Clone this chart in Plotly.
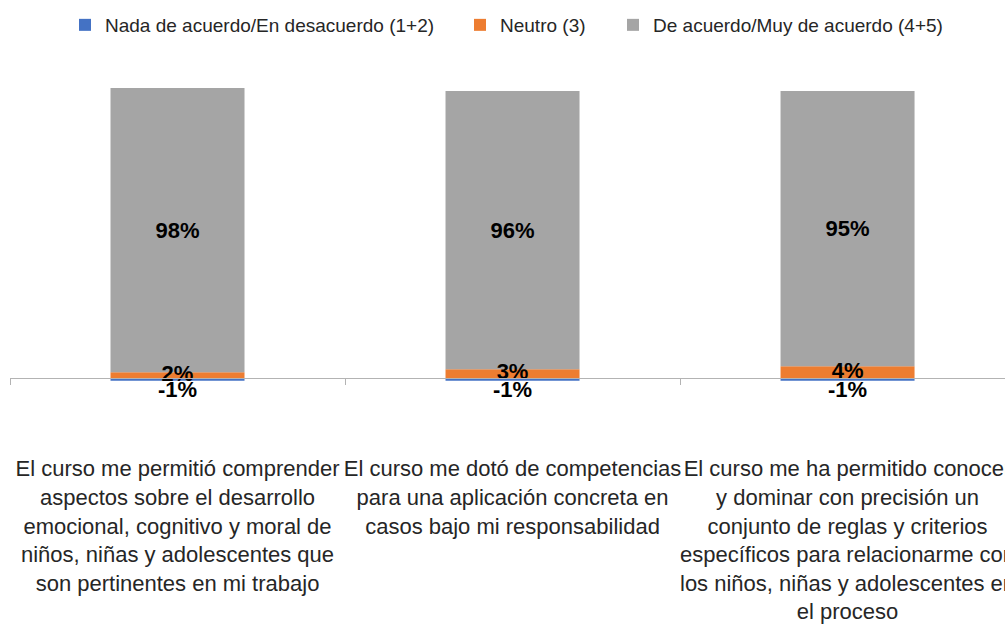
import plotly.graph_objects as go

# datos
categorias = [
    "El curso me permitió comprender<br>aspectos sobre el desarrollo<br>emocional, cognitivo y moral de<br>niños, niñas y adolescentes que<br>son pertinentes en mi trabajo",
    "El curso me dotó de competencias<br>para una aplicación concreta en<br>casos bajo mi responsabilidad",
    "El curso me ha permitido conocer<br>y dominar con precisión un<br>conjunto de reglas y criterios<br>específicos para relacionarme con<br>los niños, niñas y adolescentes en<br>el proceso",
]
desacuerdo = [-1, -1, -1]
neutro = [2, 3, 4]
acuerdo = [98, 96, 95]

series = [
    ("Nada de acuerdo/En desacuerdo (1+2)", desacuerdo, "#4472C4", "legend"),
    ("Neutro (3)", neutro, "#ED7D31", "legend2"),
    ("De acuerdo/Muy de acuerdo (4+5)", acuerdo, "#A5A5A5", "legend3"),
]

FONT = "Liberation Sans, Arial, sans-serif"
TXT = "#262626"

fig = go.Figure()
for nombre, valores, color, leg in series:
    fig.add_trace(go.Bar(
        x=categorias, y=valores, name=nombre, legend=leg,
        marker=dict(color=color, line=dict(width=0)),
        width=0.4,
    ))

# etiqueta de la serie gris dentro de la barra
fig.data[2].update(
    text=[f"{v}%" for v in acuerdo], textposition="inside",
    insidetextanchor="middle",
    textfont=dict(family=FONT, size=22, color="black", weight="bold"),
)

# etiquetas de neutro y desacuerdo
fig.add_trace(go.Scatter(
    x=categorias, y=[v / 2 for v in neutro], mode="text",
    text=[f"{v}%" for v in neutro], textposition="middle center",
    textfont=dict(family=FONT, size=22, color="black", weight="bold"),
    showlegend=False, cliponaxis=False, hoverinfo="skip",
))
fig.add_trace(go.Scatter(
    x=categorias, y=desacuerdo, mode="text",
    text=[f"{v}%" for v in desacuerdo], textposition="bottom center",
    textfont=dict(family=FONT, size=22, color="black", weight="bold"),
    showlegend=False, cliponaxis=False, hoverinfo="skip",
))

y_min, y_max = -7.6, 106.2
W, H = 1005, 624
ml, mr, mt, mb = 10, 0, 70, 224
pw = W - ml - mr
ph = H - mt - mb

def leg(px_left):
    return dict(
        x=(px_left - ml) / pw, xanchor="left",
        y=(H - mb - 25) / ph, yanchor="middle",
        orientation="h", bgcolor="rgba(0,0,0,0)", borderwidth=0,
        font=dict(family=FONT, size=19, color=TXT),
    )

fig.update_layout(
    barmode="relative",
    width=W, height=H,
    margin=dict(l=ml, r=mr, t=mt, b=mb, autoexpand=False),
    paper_bgcolor="white", plot_bgcolor="white",
    font=dict(family=FONT, color=TXT),
    showlegend=True,
    legend=leg(65), legend2=leg(460), legend3=leg(613),
    xaxis=dict(
        type="category", range=[-0.5, 2.47],
        anchor="free", position=(0 - y_min) / (y_max - y_min),
        showline=True, linecolor="#B3B3B3", linewidth=1,
        ticks="outside", ticklen=6, tickcolor="#B3B3B3", tickson="boundaries",
        showgrid=False, zeroline=False, tickangle=0,
        tickfont=dict(family=FONT, size=22, color=TXT),
        ticklabelstandoff=71, ticklabeloverflow="allow", automargin=False,
    ),
    yaxis=dict(
        range=[y_min, y_max], showgrid=False, zeroline=False,
        showticklabels=False, showline=False, ticks="",
    ),
)

fig.write_html("out.html", config={"displayModeBar": False},
               post_script="document.body.style.margin='0';")
